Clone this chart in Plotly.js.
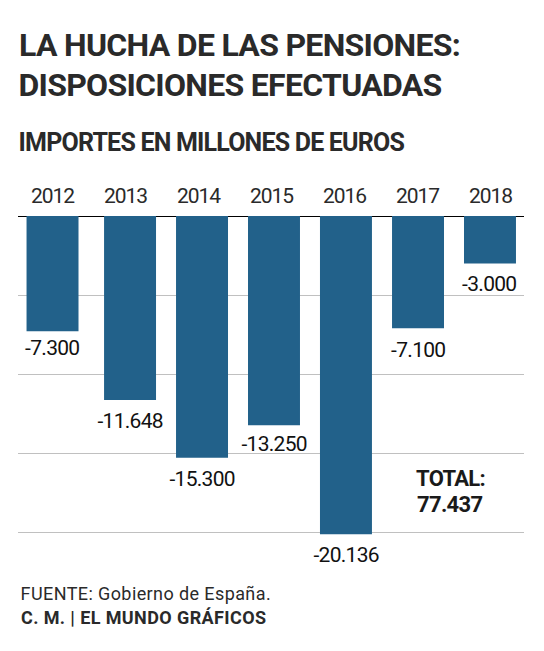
<!DOCTYPE html>
<html><head><meta charset="utf-8">
<script src="https://cdn.plot.ly/plotly-3.0.1.min.js"></script>
<style>html,body{margin:0;padding:0;background:#fff}
.xtick text{letter-spacing:-1px}
.annotation[data-index="0"] text,.annotation[data-index="1"] text{letter-spacing:-0.7px}
.annotation[data-index="2"] text{letter-spacing:-0.8px}
.annotation[data-index="3"] text,.annotation[data-index="4"] text{letter-spacing:0.4px}
.annotation[data-index="5"] text,.annotation[data-index="6"] text{letter-spacing:-0.7px}
.annotation[data-index="7"] text,.annotation[data-index="8"] text,.annotation[data-index="9"] text,.annotation[data-index="10"] text,.annotation[data-index="11"] text,.annotation[data-index="12"] text,.annotation[data-index="13"] text{letter-spacing:-0.7px}
</style></head>
<body><div id="c" style="width:544px;height:651px"></div>
<script>
const years=[2012,2013,2014,2015,2016,2017,2018];
const values=[-7300,-11648,-15300,-13250,-20136,-7100,-3000];
const valueLabels=['-7.300','-11.648','-15.300','-13.250','-20.136','-7.100','-3.000'];
const yTicks=[0,-5000,-10000,-15000,-20000];
const barNudge=[0,0.062,0.048,0.034,0.02,0.007,-0.007];
const labelGap=[17,21,21,19,21,22,21];
const W=544,H=651,L=18,R=20,T=216,B=115;
const F='Roboto',ink='#2a2a2a';
const px=v=>(v-L)/(W-L-R), py=v=>1-(v-T)/(H-T-B);
const notes=[
 {t:'<b>LA HUCHA DE LAS PENSIONES:</b>',x:10,y:45,s:32},
 {t:'<b>DISPOSICIONES EFECTUADAS</b>',x:10,y:85,s:32},
 {t:'<b>IMPORTES EN MILLONES DE EUROS</b>',x:7,y:142,s:25},
 {t:'FUENTE: Gobierno de España.',x:26,y:593,s:18},
 {t:'<b>C. M. | EL MUNDO GRÁFICOS</b>',x:26,y:617,s:18}
];
const annotations=notes.map(n=>({text:n.t,xref:'paper',yref:'paper',x:px(n.x),y:py(n.y),xanchor:'left',yanchor:'middle',showarrow:false,font:{family:F,size:n.s,color:ink},borderpad:0,borderwidth:0}));
[['<b>TOTAL:</b>',478],['<b>77.437</b>',504]].forEach(([t,y])=>annotations.push({text:t,xref:'paper',yref:'paper',x:px(450),y:py(y),xanchor:'center',yanchor:'middle',showarrow:false,font:{family:F,size:22,color:'#1a1a1a'}}));
values.forEach((v,i)=>annotations.push({text:valueLabels[i],xref:'x',yref:'y',x:years[i]+barNudge[i],y:v,yshift:-labelGap[i],xanchor:'center',yanchor:'middle',showarrow:false,font:{family:F,size:21,color:'#111'}}));
const width=0.712;
Plotly.newPlot('c',[{type:'bar',x:years,y:values,marker:{color:'#22618a',line:{width:0}},width:width,offset:barNudge.map(n=>n-width/2),cliponaxis:false,hoverinfo:'skip'}],{
 width:W,height:H,margin:{l:L,r:R,t:T,b:B,pad:0},paper_bgcolor:'#fff',plot_bgcolor:'#fff',showlegend:false,
 xaxis:{side:'top',range:[2011.527,2018.459],tickvals:years,ticktext:years.map(String),tickfont:{family:F,size:21,color:ink},ticks:'',ticklabelstandoff:8,showline:false,showgrid:false,zeroline:false,automargin:false},
 yaxis:{range:[-20253,0],tickvals:yTicks,showticklabels:false,ticks:'',gridcolor:'#c0c0c0',gridwidth:1,zeroline:true,zerolinecolor:'#000',zerolinewidth:1,showline:false,automargin:false},
 annotations
},{displayModeBar:false});
</script></body></html>
